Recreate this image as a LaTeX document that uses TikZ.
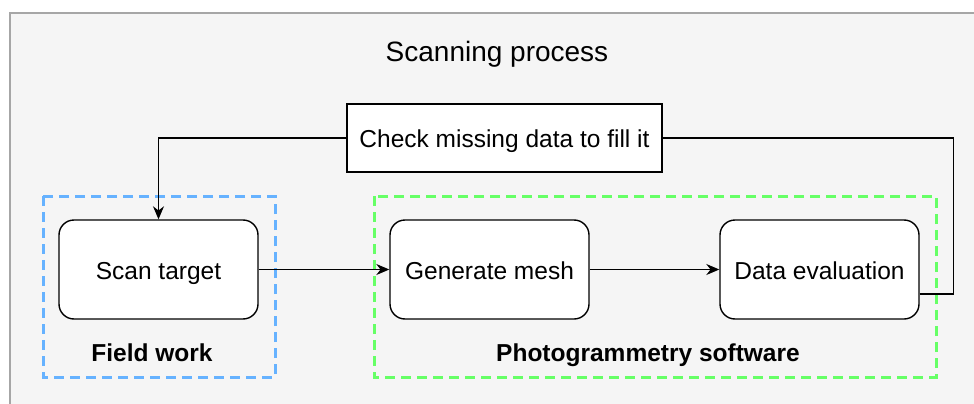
\documentclass[tikz,border=0pt]{standalone}
\usepackage{fontspec}
\setmainfont{Liberation Sans}
\usetikzlibrary{arrows.meta,calc}
\definecolor{bgfill}{HTML}{F5F5F5}
\definecolor{bgline}{HTML}{A6A6A6}
\definecolor{fieldblue}{HTML}{66B2FF}
\definecolor{softgreen}{HTML}{66FF66}
\begin{document}
\begin{tikzpicture}[x=1pt,y=-1pt,
  procbox/.style={draw=black,line width=1.4pt,fill=white,rounded corners=15pt,
    minimum width=199pt,minimum height=99pt,inner sep=0pt,
    text height=24pt,text depth=4.4pt,
    font=\fontsize{24.5}{29}\selectfont},
  notebox/.style={draw=black,line width=1.4pt,fill=white,
    minimum width=315pt,minimum height=68pt,inner sep=0pt,
    text height=24pt,text depth=4.4pt,
    font=\fontsize{24.5}{29}\selectfont},
  groupbox/.style={line width=3pt,dash pattern=on 10pt off 6pt},
  grouplabel/.style={font=\fontsize{24.5}{29}\selectfont\bfseries,inner sep=0pt,anchor=base},
  flow/.style={line width=1.5pt,draw=black,-{Stealth[length=13pt,width=11pt]}},
  plainflow/.style={line width=1.5pt,draw=black}]
\useasboundingbox (0,0) rectangle (974,404);
% background
\draw[fill=bgfill,draw=bgline,line width=1.5pt] (10,13) rectangle (990,420);
\node[inner sep=0pt,anchor=base,font=\fontsize{28}{33}\selectfont] (title) at (497,61.7) {Scanning process};
% group boxes
\draw[groupbox,draw=fieldblue] (43,196) rectangle (275,377);
\draw[groupbox,draw=softgreen] (374,196) rectangle (936,377);
\node[grouplabel] (fw) at (152,361.7) {Field work};
\node[grouplabel] (pg) at (648,361.7) {Photogrammetry software};
% nodes
\node[procbox] (scan) at (158.5,269.5) {Scan target};
\node[procbox] (gen) at (489.5,269.5) {Generate mesh};
\node[procbox] (deval) at (819.5,269.5) {Data evaluation};
\node[notebox] (check) at (504.5,138) {Check missing data to fill it};
% connectors
\draw[flow] (scan.east) -- (gen.west);
\draw[flow] (gen.east) -- (deval.west);
\draw[plainflow] ([yshift=-24.5pt]deval.east) -- ++(34,0) |- (check.east);
\draw[flow] (check.west) -| (scan.north);
\end{tikzpicture}
\end{document}
